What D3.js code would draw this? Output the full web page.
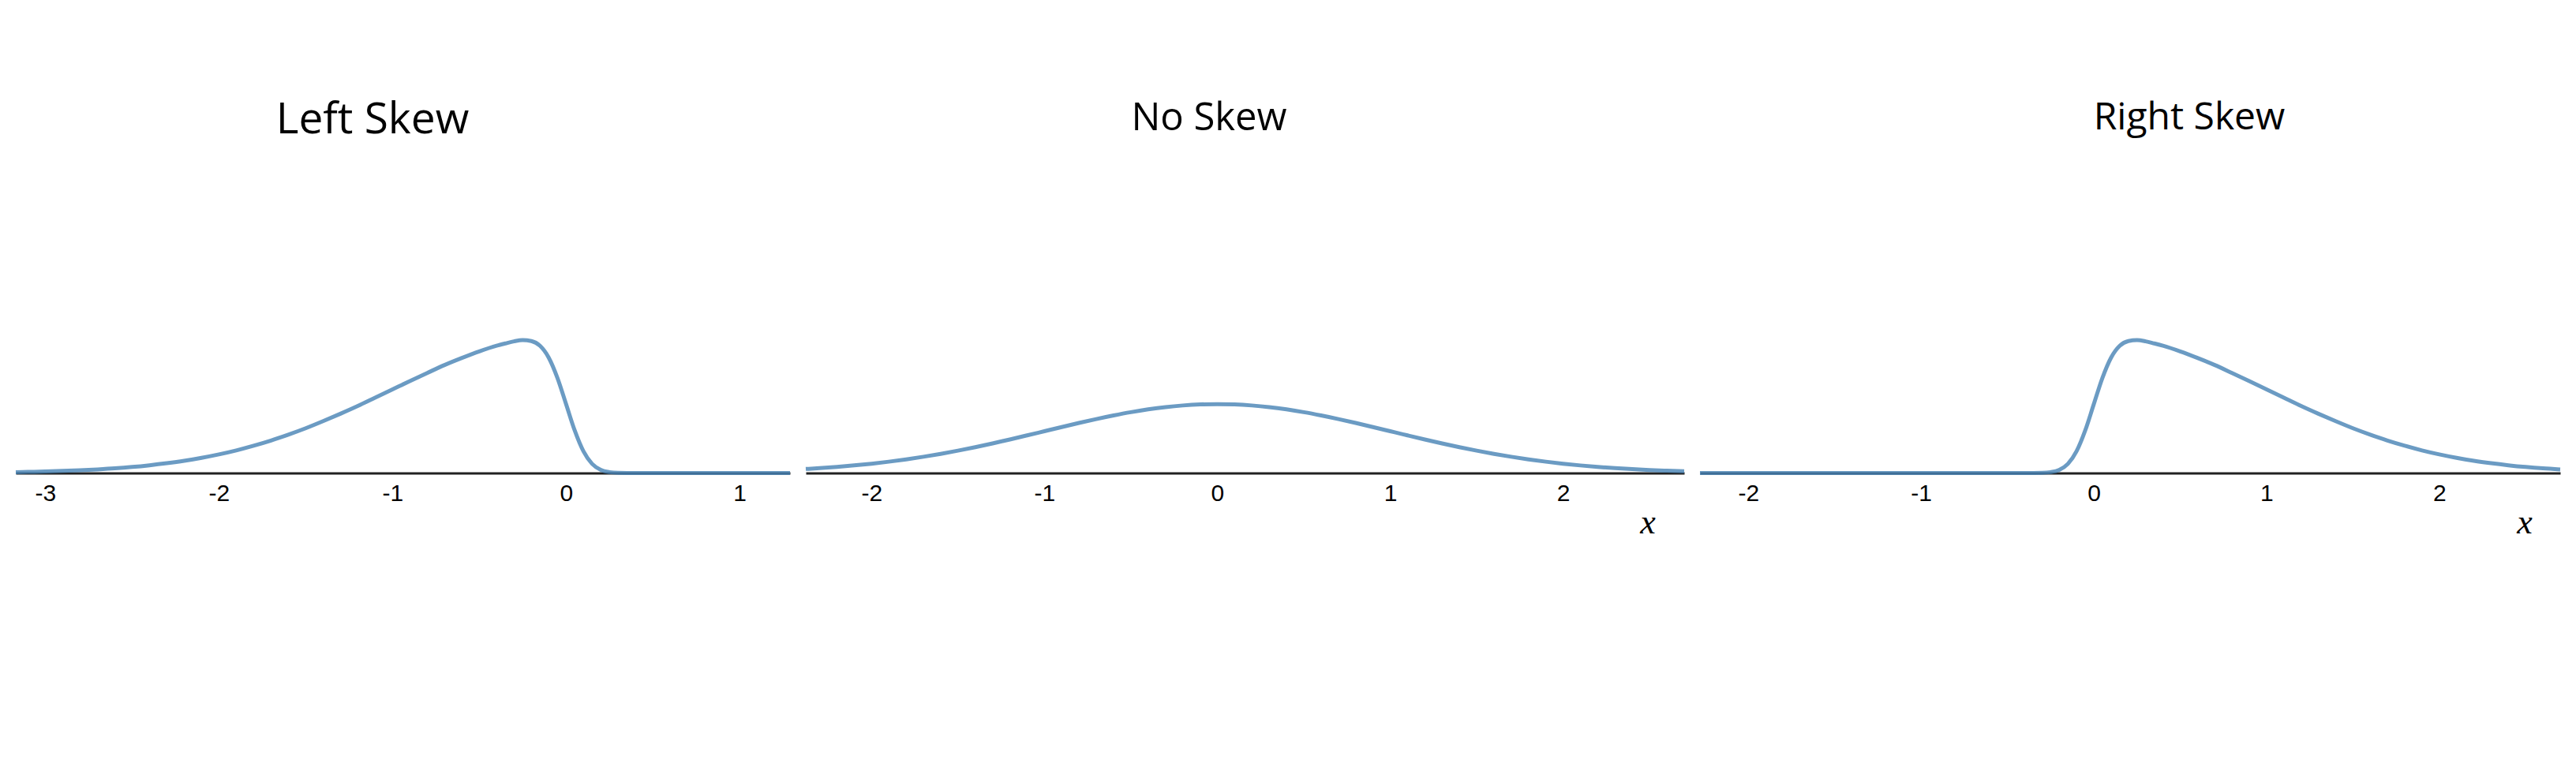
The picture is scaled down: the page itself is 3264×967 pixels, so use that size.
<!DOCTYPE html>
<html>
<head>
<meta charset="utf-8">
<script src="https://cdn.jsdelivr.net/npm/d3@7"></script>
<style>
  body { margin: 0; background: #fff; }
  .tick text { font-family: "Liberation Sans", Arial, sans-serif; font-size: 30px; fill: #000; }
</style>
</head>
<body>
<script>
// panel titles and tick labels
var panelTitles = ["Left Skew", "No Skew", "Right Skew"];
var ticksLeft = [-3, -2, -1, 0, 1];
var ticksNormal = [-2, -1, 0, 1, 2];
var ticksRight = [-2, -1, 0, 1, 2];

// density curves
var xLeft = [-3.17, -3.1, -3.0, -2.9, -2.8, -2.7, -2.6, -2.5, -2.4, -2.3, -2.2, -2.1, -2.0, -1.9, -1.8, -1.7, -1.6, -1.5, -1.4, -1.3, -1.2, -1.1, -1.0, -0.9, -0.8, -0.7, -0.6, -0.5, -0.4, -0.35, -0.3, -0.25, -0.2, -0.15, -0.1, -0.05, 0, 0.05, 0.1, 0.15, 0.2, 0.25, 0.3, 0.4, 1.0, 1.29];
var yLeft = [0.005, 0.0065, 0.009, 0.012, 0.016, 0.021, 0.027, 0.035, 0.045, 0.057, 0.071, 0.088, 0.108, 0.131, 0.158, 0.188, 0.222, 0.259, 0.300, 0.343, 0.388, 0.436, 0.484, 0.532, 0.579, 0.625, 0.666, 0.704, 0.737, 0.750, 0.762, 0.769, 0.764, 0.736, 0.668, 0.551, 0.399, 0.246, 0.126, 0.053, 0.018, 0.005, 0.001, 0, 0, 0];

var xNormal = [-2.38, -2.3, -2.2, -2.1, -2.0, -1.9, -1.8, -1.7, -1.6, -1.5, -1.4, -1.3, -1.2, -1.1, -1.0, -0.9, -0.8, -0.7, -0.6, -0.5, -0.4, -0.3, -0.2, -0.1, 0, 0.1, 0.2, 0.3, 0.4, 0.5, 0.6, 0.7, 0.8, 0.9, 1.0, 1.1, 1.2, 1.3, 1.4, 1.5, 1.6, 1.7, 1.8, 1.9, 2.0, 2.1, 2.2, 2.3, 2.4, 2.5, 2.6, 2.7];
var yNormal = [0.0235, 0.0283, 0.0355, 0.0440, 0.0540, 0.0656, 0.0790, 0.0941, 0.1109, 0.1295, 0.1497, 0.1714, 0.1942, 0.2179, 0.2420, 0.2661, 0.2897, 0.3123, 0.3332, 0.3521, 0.3683, 0.3814, 0.3910, 0.3970, 0.3989, 0.3970, 0.3910, 0.3814, 0.3683, 0.3521, 0.3332, 0.3123, 0.2897, 0.2661, 0.2420, 0.2179, 0.1942, 0.1714, 0.1497, 0.1295, 0.1109, 0.0941, 0.0790, 0.0656, 0.0540, 0.0440, 0.0355, 0.0283, 0.0224, 0.0175, 0.0136, 0.0104];

var xRight = [-2.28, -1.0, -0.4, -0.3, -0.25, -0.2, -0.15, -0.1, -0.05, 0, 0.05, 0.1, 0.15, 0.2, 0.25, 0.3, 0.35, 0.4, 0.5, 0.6, 0.7, 0.8, 0.9, 1.0, 1.1, 1.2, 1.3, 1.4, 1.5, 1.6, 1.7, 1.8, 1.9, 2.0, 2.1, 2.2, 2.3, 2.4, 2.5, 2.6, 2.7];
var yRight = [0, 0, 0, 0.001, 0.005, 0.018, 0.053, 0.126, 0.246, 0.399, 0.551, 0.668, 0.736, 0.764, 0.769, 0.762, 0.750, 0.737, 0.704, 0.666, 0.625, 0.579, 0.532, 0.484, 0.436, 0.388, 0.343, 0.300, 0.259, 0.222, 0.188, 0.158, 0.131, 0.108, 0.088, 0.071, 0.057, 0.045, 0.035, 0.027, 0.021];

var width = 3264, height = 967;
var baseY = 599.5;

var panels = [
  { title: panelTitles[0], xs: xLeft, ys: yLeft, ticks: ticksLeft, domain: [-3.17, 1.29], range: [20, 1001],
    titleX: 472, titleY: 169, titleSize: 55, xlabel: false },
  { title: panelTitles[1], xs: xNormal, ys: yNormal, ticks: ticksNormal, domain: [-2.38, 2.70], range: [1021, 2134],
    titleX: 1532, titleY: 165, titleSize: 49, xlabel: true, labelX: 2088 },
  { title: panelTitles[2], xs: xRight, ys: yRight, ticks: ticksRight, domain: [-2.28, 2.70], range: [2154, 3244],
    titleX: 2774, titleY: 164, titleSize: 48, xlabel: true, labelX: 3199 }
];

var svg = d3.select("body").append("svg")
  .attr("width", width)
  .attr("height", height);

// same vertical scale for all three panels
var y = d3.scaleLinear()
  .domain([0, 1])
  .range([baseY, baseY - 219]);

panels.forEach(function(p) {
  var x = d3.scaleLinear().domain(p.domain).range(p.range);

  var g = svg.append("g");

  g.append("text")
    .attr("x", p.titleX)
    .attr("y", p.titleY)
    .attr("text-anchor", "middle")
    .style("font-family", "'Open Sans', sans-serif")
    .style("font-size", p.titleSize + "px")
    .style("fill", "#000")
    .text(p.title);

  var axis = g.append("g")
    .attr("transform", "translate(0," + baseY + ")")
    .call(d3.axisBottom(x)
      .tickValues(p.ticks)
      .tickFormat(function(d) { return String(d); })
      .tickSize(0)
      .tickSizeOuter(0)
      .tickPadding(14));
  axis.select(".domain")
    .attr("stroke", "#222")
    .attr("stroke-width", 3);

  var data = p.xs.map(function(v, i) { return { x: v, y: p.ys[i] }; });

  var line = d3.line()
    .x(function(d) { return x(d.x); })
    .y(function(d) { return y(d.y); })
    .curve(d3.curveMonotoneX);

  g.append("path")
    .datum(data)
    .attr("d", line)
    .attr("fill", "none")
    .attr("stroke", "steelblue")
    .attr("stroke-opacity", 0.8)
    .attr("stroke-width", 5)
    .attr("stroke-linejoin", "round");

  if (p.xlabel) {
    g.append("text")
      .attr("x", p.labelX)
      .attr("y", 676)
      .attr("text-anchor", "middle")
      .style("font-family", "'Liberation Serif', 'DejaVu Serif', serif")
      .style("font-style", "italic")
      .style("font-size", "44px")
      .text("x");
  }
});
</script>
</body>
</html>
